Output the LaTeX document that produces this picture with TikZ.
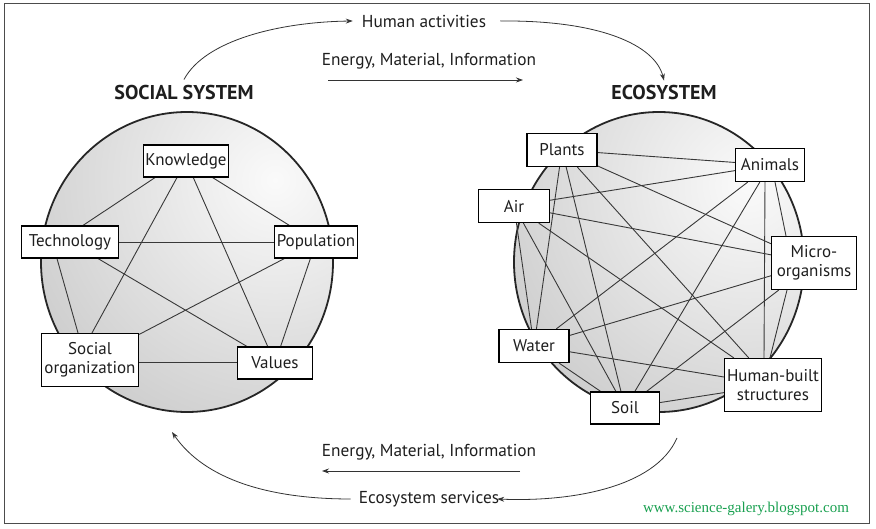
\documentclass[tikz,border=0pt]{standalone}
\usepackage{fontspec}
\setmainfont{PT Sans}
\newfontfamily\wmfont{Liberation Serif}
\usetikzlibrary{arrows.meta}
\pgfdeclarelayer{back}
\pgfdeclarelayer{edges}
\pgfsetlayers{back,edges,main}
\definecolor{wmgreen}{RGB}{25,160,80}
\definecolor{ink}{RGB}{30,30,30}
\tikzset{
  box/.style={draw=black, line width=1.2pt, fill=white, inner sep=0pt, align=center,
    text=ink, font=\fontsize{17}{18.5}\selectfont},
  link/.style={draw=black!78, line width=0.9pt},
  title/.style={font=\fontsize{20}{22}\selectfont\bfseries, text=ink, inner sep=0pt},
  lbl/.style={font=\fontsize{17.3}{19}\selectfont, text=ink, inner sep=0pt},
  flow/.style={draw=black!80, line width=0.8pt, -{Stealth[length=7pt,width=5pt]}},
  rim/.style={draw=black!85, line width=1.8pt},
}
\begin{document}
\begin{tikzpicture}[x=1pt,y=-1pt]
\useasboundingbox (0,0) rectangle (876,529);
\draw[black!70, line width=0.8pt] (4,3) rectangle (869,523);

% spheres
\begin{pgfonlayer}{back}
\begin{scope}
  \clip (187,262) ellipse [x radius=146pt, y radius=150pt];
  \shade[inner color=gray!4, outer color=gray!64] (275,180) circle [radius=470pt];
\end{scope}
\draw[rim] (187,262) ellipse [x radius=146pt, y radius=150pt];
\begin{scope}
  \clip (659,262) ellipse [x radius=145pt, y radius=150pt];
  \shade[inner color=gray!4, outer color=gray!64] (748,185) circle [radius=470pt];
\end{scope}
\draw[rim] (659,262) ellipse [x radius=145pt, y radius=150pt];
\end{pgfonlayer}

% titles and labels
\node[title] (soc) at (184,93) {SOCIAL SYSTEM};
\node[title] (eco) at (664,93) {ECOSYSTEM};
\node[lbl] (ha) at (424,21) {Human activities};
\node[lbl] (emi1) at (429,61) {Energy, Material, Information};
\node[lbl] (emi2) at (429,452) {Energy, Material, Information};
\node[lbl] (es) at (429,499) {Ecosystem services};
\node[font=\wmfont\fontsize{15}{17}\selectfont, text=wmgreen, inner sep=0pt] (wm) at (746,509) {www.science-galery.blogspot.com};

% social system nodes
\node[box, minimum width=85pt, minimum height=32pt] (kn) at (186,161) {Knowledge};
\node[box, minimum width=97pt, minimum height=32pt] (tech) at (70,242) {Technology};
\node[box, minimum width=83pt, minimum height=32pt] (pop) at (316,242) {Population};
\node[box, minimum width=97pt, minimum height=53pt] (so) at (90,360) {Social\\organization};
\node[box, minimum width=75pt, minimum height=32pt] (val) at (275,363) {Values};

% ecosystem nodes
\node[box, minimum width=70pt, minimum height=33pt] (pl) at (562,150) {Plants};
\node[box, minimum width=71pt, minimum height=33pt] (air) at (514,206) {Air};
\node[box, minimum width=69pt, minimum height=33pt] (an) at (770,165) {Animals};
\node[box, minimum width=85pt, minimum height=53pt] (mi) at (814,263) {Micro-\\organisms};
\node[box, minimum width=70pt, minimum height=33pt] (wa) at (534,346) {Water};
\node[box, minimum width=69pt, minimum height=32pt] (soil) at (625,408) {Soil};
\node[box, minimum width=97pt, minimum height=53pt] (hb) at (773,385) {Human-built\\structures};

% links
\begin{pgfonlayer}{edges}
\draw[link] ([xshift=-31pt]kn.south) -- ([xshift=13pt]tech.north);
\draw[link] ([xshift=-9pt]kn.south) -- ([xshift=2pt]so.north);
\draw[link] ([xshift=-13pt]tech.south) -- ([xshift=-12pt]so.north);
\draw[link] ([yshift=-2pt]so.east) -- ([yshift=1pt]val.west);
\foreach \a/\b in {kn/pop,kn/val,tech/pop,tech/val,pop/so,pop/val}
  \draw[link] (\a) -- (\b);
\draw[link] ([xshift=-5pt]an.south) -- ([xshift=-9pt]hb.north);
\draw[link] ([xshift=5pt]an.south) -- ([xshift=-28pt]mi.north);
\draw[link] ([xshift=-27pt]mi.south) -- ([xshift=-3pt]hb.north);
\foreach \a/\b in {pl/an,pl/mi,pl/wa,pl/soil,pl/hb,
                   air/an,air/mi,air/wa,air/soil,air/hb,
                   an/wa,an/soil,
                   mi/wa,mi/soil,
                   wa/soil,wa/hb,soil/hb}
  \draw[link] (\a) -- (\b);
\end{pgfonlayer}

% flows
\coordinate (t1) at (328,80);
\coordinate (t2) at (523,80);
\coordinate (b1) at (520,471);
\coordinate (b2) at (322,471);
\draw[flow] (t1) -- (t2);
\draw[flow] (b1) -- (b2);
\draw[flow] ([yshift=6pt]soc.north) .. controls (205,40) and (280,22) .. ([xshift=-9pt]ha.west);
\draw[flow] ([xshift=14pt]ha.east) .. controls (600,20) and (655,45) .. ([yshift=5pt]eco.north);
\coordinate (br) at (677,438);
\coordinate (bl) at (172,432);
\draw[flow] (br) .. controls (655,488) and (570,502) .. ([xshift=-2pt]es.east);
\draw[flow] ([xshift=-8pt]es.west) .. controls (270,499) and (205,480) .. (bl);
\end{tikzpicture}
\end{document}
